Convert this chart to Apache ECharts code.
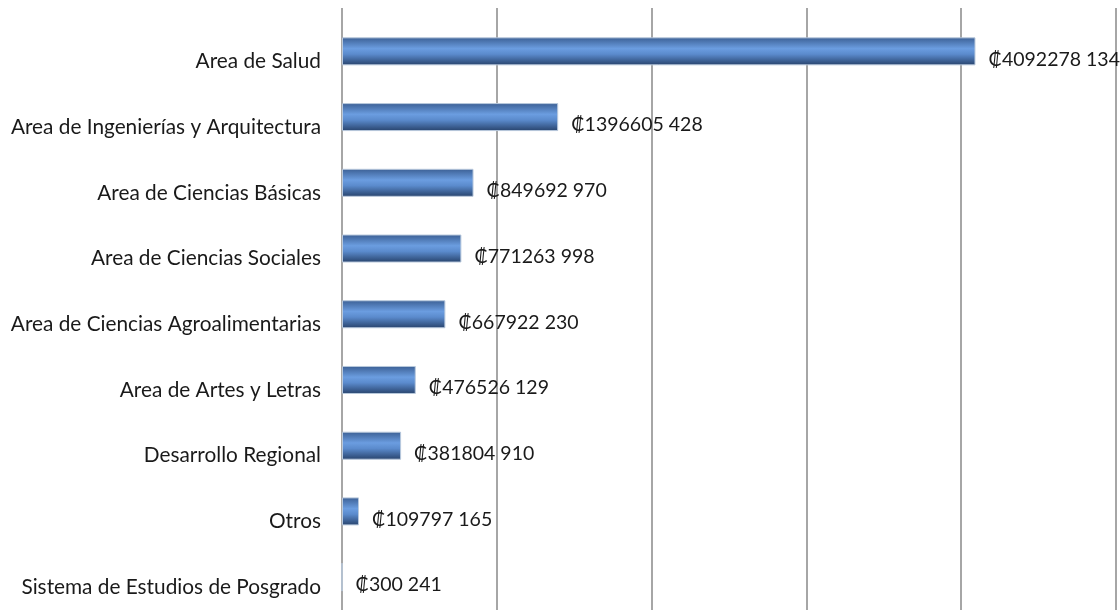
<!DOCTYPE html>
<html>
<head>
<meta charset="utf-8">
<script src="https://cdn.jsdelivr.net/npm/echarts@6/dist/echarts.min.js"></script>
<style>
  html, body { margin: 0; padding: 0; background: #fff; }
  #chart { width: 1120px; height: 610px; }
</style>
</head>
<body>
<div id="chart"></div>
<script>
// categories, top to bottom
const categories = [
  'Area de Salud',
  'Area de Ingenierías y Arquitectura',
  'Area de Ciencias Básicas',
  'Area de Ciencias Sociales',
  'Area de Ciencias Agroalimentarias',
  'Area de Artes y Letras',
  'Desarrollo Regional',
  'Otros',
  'Sistema de Estudios de Posgrado'
]
// amounts in colones
const amounts = [
  4092278134,
  1396605428,
  849692970,
  771263998,
  667922230,
  476526129,
  381804910,
  109797165,
  300241
]

const fontFamily = 'Lato, "Open Sans", sans-serif'

// ₡4092278 134 style
const formatColones = (v) => {
  const head = Math.floor(v / 1000)
  const tail = String(v % 1000).padStart(3, '0')
  return '\u20A1' + head + ' ' + tail
}

const chart = echarts.init(document.getElementById('chart'))
chart.setOption({
  animation: false,
  grid: [
    { left: 342, top: 18.5, width: 774, height: 602 },
    // only for the vertical gridlines, they start a bit higher
    { left: 342, top: 8, width: 774, height: 610 }
  ],
  xAxis: [
    {
      type: 'value',
      gridIndex: 0,
      min: 0,
      max: 5000000000,
      interval: 1000000000,
      axisLine: { show: false },
      axisTick: { show: false },
      axisLabel: { show: false },
      splitLine: { show: false }
    },
    {
      type: 'value',
      gridIndex: 1,
      min: 0,
      max: 5000000000,
      interval: 1000000000,
      axisLine: { show: false },
      axisTick: { show: false },
      axisLabel: { show: false },
      splitLine: { show: true, lineStyle: { color: '#a6a6a6', width: 2 } }
    }
  ],
  yAxis: [
    {
      type: 'category',
      gridIndex: 0,
      data: categories,
      inverse: true,
      axisLine: { show: false },
      axisTick: { show: false },
      axisLabel: {
        margin: 21,
        color: '#1a1a1a',
        fontSize: 20.8,
        lineHeight: 20,
        verticalAlign: 'top',
        fontFamily: fontFamily
      }
    },
    {
      type: 'value',
      gridIndex: 1,
      show: false
    }
  ],
  series: [
    {
      type: 'bar',
      xAxisIndex: 0,
      yAxisIndex: 0,
      data: amounts,
      barWidth: 28,
      itemStyle: {
        borderColor: '#b9c9dd',
        borderWidth: 1,
        color: new echarts.graphic.LinearGradient(0, 0, 0, 1, [
          { offset: 0, color: '#3b5f94' },
          { offset: 0.4, color: '#6b9de0' },
          { offset: 0.6, color: '#5b8bcd' },
          { offset: 1, color: '#27426b' }
        ])
      },
      label: {
        show: true,
        position: 'right',
        distance: 13,
        offset: [0, 8],
        color: '#1a1a1a',
        fontSize: 19.5,
        fontFamily: fontFamily,
        formatter: (p) => formatColones(p.value)
      }
    }
  ]
})
</script>
</body>
</html>
